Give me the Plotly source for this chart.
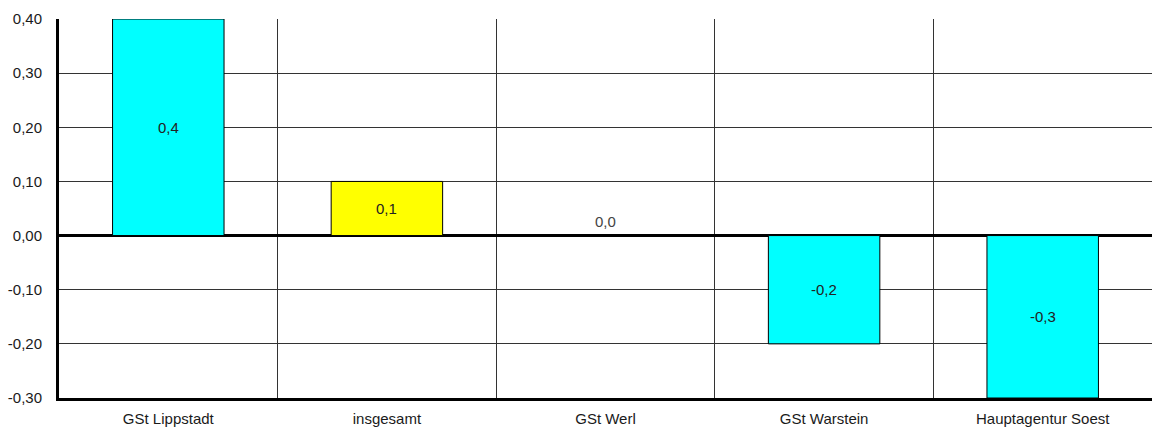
import plotly.graph_objects as go

categories = ["GSt Lippstadt", "insgesamt", "GSt Werl", "GSt Warstein", "Hauptagentur Soest"]
values = [0.4, 0.1, 0.0, -0.2, -0.3]
bar_colors = ["#00FFFF", "#FFFF00", "#00FFFF", "#00FFFF", "#00FFFF"]
value_labels = ["0,4", "0,1", "0,0", "-0,2", "-0,3"]
tick_vals = [-0.3, -0.2, -0.1, 0.0, 0.1, 0.2, 0.3, 0.4]
tick_text = ["-0,30", "-0,20", "-0,10", "0,00", "0,10", "0,20", "0,30", "0,40"]

font_family = "Liberation Sans, Arial, sans-serif"

fig = go.Figure()
fig.add_trace(go.Bar(
    x=categories, y=values,
    marker=dict(color=bar_colors, line=dict(color="#000000", width=1)),
    width=0.51, hoverinfo="skip", showlegend=False,
))

for cat, v, lab in zip(categories, values, value_labels):
    if v != 0:
        fig.add_annotation(x=cat, y=v / 2, text=lab, showarrow=False,
                           xanchor="center", yanchor="middle",
                           font=dict(family=font_family, size=15, color="#222222"))
    else:
        fig.add_annotation(x=cat, y=v, text=lab, showarrow=False,
                           xanchor="center", yanchor="bottom", yshift=4,
                           font=dict(family=font_family, size=15, color="#444444"))

fig.update_layout(
    width=1152, height=430,
    margin=dict(l=59, r=0, t=19, b=32),
    paper_bgcolor="white", plot_bgcolor="white",
    font=dict(family=font_family, size=15, color="#000000"),
    bargap=0.49,
)
fig.update_xaxes(
    type="category", tickson="boundaries", showgrid=True,
    gridcolor="#333333", gridwidth=1,
    showline=True, linecolor="#000000", linewidth=3,
    ticks="", ticklabelstandoff=5,
    tickfont=dict(family=font_family, size=15, color="#1a1a1a"),
    fixedrange=True, automargin=False,
)
fig.update_yaxes(
    range=[-0.3, 0.4], tickvals=tick_vals, ticktext=tick_text,
    showgrid=True, gridcolor="#333333", gridwidth=1,
    zeroline=True, zerolinecolor="#000000", zerolinewidth=2.5,
    showline=True, linecolor="#000000", linewidth=3,
    ticks="", ticklabelstandoff=11,
    tickfont=dict(family=font_family, size=15, color="#1a1a1a"),
    fixedrange=True, automargin=False,
)

fig.write_html(
    "out.html",
    config={"displayModeBar": False},
    post_script="document.body.style.margin='0';document.body.style.overflow='hidden';",
)
